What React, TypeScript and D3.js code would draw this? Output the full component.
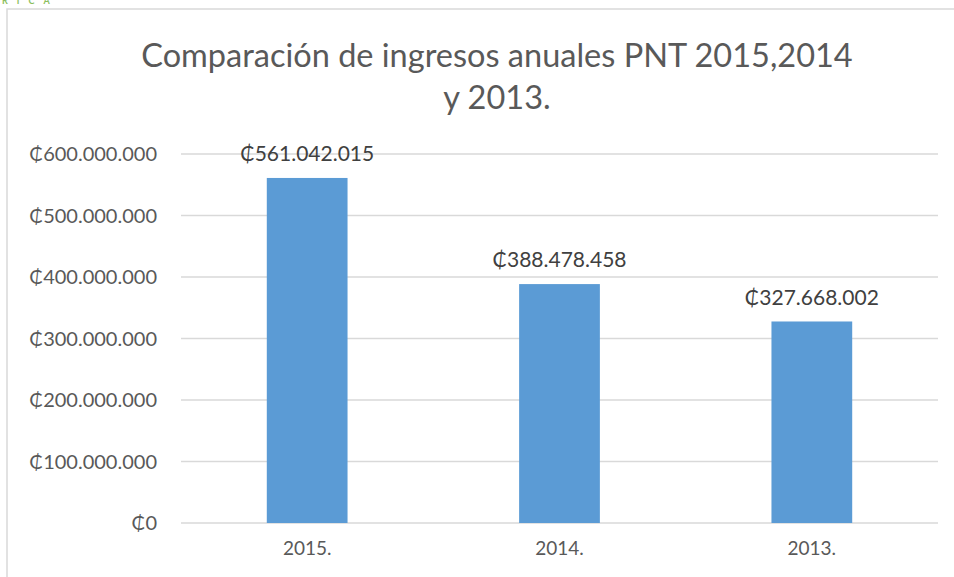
import React from "react";
import * as d3 from "d3";

const categories = ["2015.", "2014.", "2013."];
const values = [561042015, 388478458, 327668002];
const tickValues = [0, 100000000, 200000000, 300000000, 400000000, 500000000, 600000000];
const titleLines = ["Comparación de ingresos anuales PNT 2015,2014", "y 2013."];

const fmt = (v: number) => "₵" + d3.format(",")(v).replace(/,/g, ".");

export default function App() {
  const W = 954, H = 577;
  const left = 181, right = 938, top = 154, bottom = 523;
  const x = d3.scaleBand<string>().domain(categories).range([left, right]).paddingInner(0.68).paddingOuter(0.34);
  const y = d3.scaleLinear().domain([0, 600000000]).range([bottom, top]);
  const font = "Lato, 'Open Sans', sans-serif";
  return (
    <svg width={W} height={H} style={{ position: "absolute", left: 0, top: 0, background: "#fff" }}>
      <rect x={0} y={0} width={W} height={H} fill="#fff" />
      <text x={2} y={4} fill="#8cbf5f" fontSize={9} fontWeight="bold" fontFamily={font} letterSpacing={9}>RICA</text>
      <rect x={7} y={9} width={1100} height={700} fill="#fff" stroke="#d9d9d9" strokeWidth={1.5} />
      {titleLines.map((t, i) => (
        <text key={i} x={497} y={67 + i * 42} textAnchor="middle" fontSize={32.5} fill="#595959" fontFamily={font}>{t}</text>
      ))}
      {tickValues.map((v) => (
        <g key={v}>
          <line x1={left} x2={right} y1={y(v)} y2={y(v)} stroke="#d9d9d9" strokeWidth={1.5} />
          <text x={157} y={y(v)} dy="0.35em" textAnchor="end" fontSize={20} fill="#595959" fontFamily={font}>{fmt(v)}</text>
        </g>
      ))}
      {categories.map((c, i) => (
        <g key={c}>
          <rect x={x(c)} y={y(values[i])} width={x.bandwidth()} height={bottom - y(values[i])} fill="#5b9bd5" />
          <text x={(x(c) as number) + x.bandwidth() / 2} y={y(values[i]) - 24} dy="0.35em" textAnchor="middle" fontSize={21} fill="#404040" fontFamily={font}>{fmt(values[i])}</text>
          <text x={(x(c) as number) + x.bandwidth() / 2} y={548} dy="0.35em" textAnchor="middle" fontSize={19} fill="#595959" fontFamily={font}>{c}</text>
        </g>
      ))}
    </svg>
  );
}
